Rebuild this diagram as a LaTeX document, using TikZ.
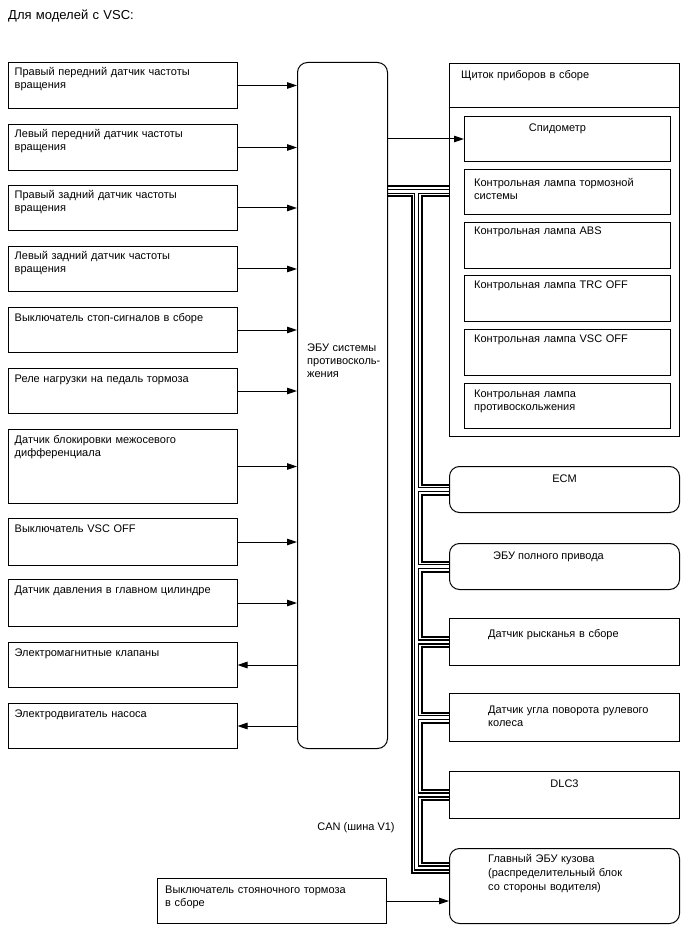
\documentclass[tikz,border=0pt]{standalone}
\usepackage{fontspec}
\setmainfont{Liberation Sans}
\usetikzlibrary{arrows.meta,positioning,calc,backgrounds}

\begin{document}
\begin{tikzpicture}[
    x=1pt, y=-1pt,
    every node/.style={font=\fontsize{11}{13}\selectfont},
    blk/.style={draw,line width=1pt,anchor=north west,inner sep=0pt,
                minimum width=229,minimum height=46},
    rblk/.style={blk,rounded corners=10pt,minimum width=230},
    txt/.style={anchor=base west,align=left,inner sep=0pt,text width=240},
    ctxt/.style={anchor=base,align=center,inner sep=0pt},
    line/.style={-{Triangle[length=10pt,width=6.5pt]},line width=1pt}
]
\useasboundingbox (0,0) rectangle (688,949);

% Title
\node[txt,font=\fontsize{13}{15}\selectfont] (title) at (8,20) {Для моделей с VSC:};

% Sensors and switches (left column)
\node[blk] (RF) at (7.5,62) {};
\node[txt] (RFt) at ([shift={(7,14)}]RF.north west) {Правый передний датчик частоты\\вращения};
\node[blk] (LF) at (7.5,124) {};
\node[txt] (LFt) at ([shift={(7,14)}]LF.north west) {Левый передний датчик частоты\\вращения};
\node[blk,minimum height=45] (RR) at (7.5,185) {};
\node[txt] (RRt) at ([shift={(7,14)}]RR.north west) {Правый задний датчик частоты\\вращения};
\node[blk,minimum height=45] (LR) at (7.5,246) {};
\node[txt] (LRt) at ([shift={(7,14)}]LR.north west) {Левый задний датчик частоты\\вращения};
\node[blk,minimum height=45] (STP) at (7.5,307) {};
\node[txt] (STPt) at ([shift={(7,14)}]STP.north west) {Выключатель стоп-сигналов в сборе};
\node[blk,minimum height=45] (BLR) at (7.5,368) {};
\node[txt] (BLRt) at ([shift={(7,14)}]BLR.north west) {Реле нагрузки на педаль тормоза};
\node[blk,minimum height=74] (DIF) at (7.5,429) {};
\node[txt] (DIFt) at ([shift={(7,14)}]DIF.north west) {Датчик блокировки межосевого\\дифференциала};
\node[blk,minimum height=47] (VSW) at (7.5,518) {};
\node[txt] (VSWt) at ([shift={(7,14)}]VSW.north west) {Выключатель VSC OFF};
\node[blk,minimum height=47] (MCP) at (7.5,579) {};
\node[txt] (MCPt) at ([shift={(7,14)}]MCP.north west) {Датчик давления в главном цилиндре};
\node[blk,minimum height=45] (SOL) at (7.5,642) {};
\node[txt] (SOLt) at ([shift={(7,14)}]SOL.north west) {Электромагнитные клапаны};
\node[blk,minimum height=45] (PMP) at (7.5,703) {};
\node[txt] (PMPt) at ([shift={(7,14)}]PMP.north west) {Электродвигатель насоса};

% Skid control ECU
\node[blk,rounded corners=10pt,minimum width=90,minimum height=686] (ECU) at (297,62) {};
\node[txt] (ECUt) at ([shift={(10,289)}]ECU.north west) {ЭБУ системы\\противосколь-\\жения};

% Combination meter
\node[blk,minimum width=230,minimum height=373] (CL) at (448.5,63) {};
\node[txt] (CLt) at ([shift={(12.5,16)}]CL.north west) {Щиток приборов в сборе};
\draw[line width=1pt] ([yshift=-45pt]CL.north west) -- ([yshift=-45pt]CL.north east);
\node[blk,minimum width=206,minimum height=45] (SPD) at (464,116) {};
\node[ctxt] (SPDt) at ([shift={(-10,15.5)}]SPD.north) {Спидометр};
\node[blk,minimum width=206,minimum height=45] (LBRK) at (464,169) {};
\node[txt] (LBRKt) at ([shift={(10,17.5)}]LBRK.north west) {Контрольная лампа тормозной\\системы};
\node[blk,minimum width=206,minimum height=46] (LABS) at (464,222) {};
\node[txt] (LABSt) at ([shift={(10,13)}]LABS.north west) {Контрольная лампа ABS};
\node[blk,minimum width=206,minimum height=46] (LTRC) at (464,275) {};
\node[txt] (LTRCt) at ([shift={(10,13)}]LTRC.north west) {Контрольная лампа TRC OFF};
\node[blk,minimum width=206,minimum height=46] (LVSC) at (464,329) {};
\node[txt] (LVSCt) at ([shift={(10,13)}]LVSC.north west) {Контрольная лампа VSC OFF};
\node[blk,minimum width=206,minimum height=45] (LSLP) at (464,383) {};
\node[txt] (LSLPt) at ([shift={(10,14.5)}]LSLP.north west) {Контрольная лампа\\противоскольжения};

% Other CAN nodes
\node[rblk] (ECM) at (449,466) {};
\node[ctxt] (ECMt) at ([yshift=-16pt]ECM.north) {ECM};
\node[rblk] (AWD) at (449,543) {};
\node[ctxt] (AWDt) at ([shift={(-16,16)}]AWD.north) {ЭБУ полного привода};
\node[blk,minimum width=230,minimum height=47] (YAW) at (449,618) {};
\node[txt] (YAWt) at ([shift={(39,19)}]YAW.north west) {Датчик рысканья в сборе};
\node[blk,minimum width=230,minimum height=48] (STR) at (449,693) {};
\node[txt] (STRt) at ([shift={(39,20)}]STR.north west) {Датчик угла поворота рулевого\\колеса};
\node[blk,minimum width=230,minimum height=47] (DLC) at (449,771) {};
\node[ctxt] (DLCt) at ([yshift=-16pt]DLC.north) {DLC3};
\node[rblk,minimum height=75] (BCM) at (449,848) {};
\node[txt,font=\fontsize{11}{14}\selectfont] (BCMt) at ([shift={(39,14)}]BCM.north west)
    {Главный ЭБУ кузова\\(распределительный блок\\со стороны водителя)};

% Parking brake switch
\node[blk,minimum width=229,minimum height=45] (PKB) at (157,878) {};
\node[txt] (PKBt) at ([shift={(8,15)}]PKB.north west) {Выключатель стояночного тормоза\\в сборе};

% CAN bus
\coordinate (cantop) at (416.5,191.5);
\coordinate (canbot) at (416.5,868);
\node (canl) at (356,828) {CAN (шина V1)};

\begin{scope}[on background layer]
\fill[white] (0,0) rectangle (688,949);
\foreach \w/\c in {12/black,8/white,5.5/black,2.5/white}
  \draw[line width=\w pt,\c]
    (ECU.east |- cantop) -- (CL.west |- cantop)
    (cantop) -- (canbot) -- (BCM.west |- canbot)
    (cantop |- ECM.west) -- (ECM.west)
    (cantop |- AWD.west) -- (AWD.west)
    (cantop |- YAW.west) -- (YAW.west)
    (cantop |- STR.west) -- (STR.west)
    (cantop |- DLC.west) -- (DLC.west);
\end{scope}

% Signal lines
\draw[line] (RF.east) -- (RF.east -| ECU.west);
\draw[line] (LF.east) -- (LF.east -| ECU.west);
\draw[line] (RR.east) -- (RR.east -| ECU.west);
\draw[line] (LR.east) -- (LR.east -| ECU.west);
\draw[line] (STP.east) -- (STP.east -| ECU.west);
\draw[line] (BLR.east) -- (BLR.east -| ECU.west);
\draw[line] (DIF.east) -- (DIF.east -| ECU.west);
\draw[line] (VSW.east) -- (VSW.east -| ECU.west);
\draw[line] (MCP.east) -- (MCP.east -| ECU.west);
\draw[line] (SOL.east -| ECU.west) -- (SOL.east);
\draw[line] (PMP.east -| ECU.west) -- (PMP.east);
\draw[line] (SPD.west -| ECU.east) -- (SPD.west);
\draw[line] (PKB.east) -- (PKB.east -| BCM.west);

\end{tikzpicture}
\end{document}
